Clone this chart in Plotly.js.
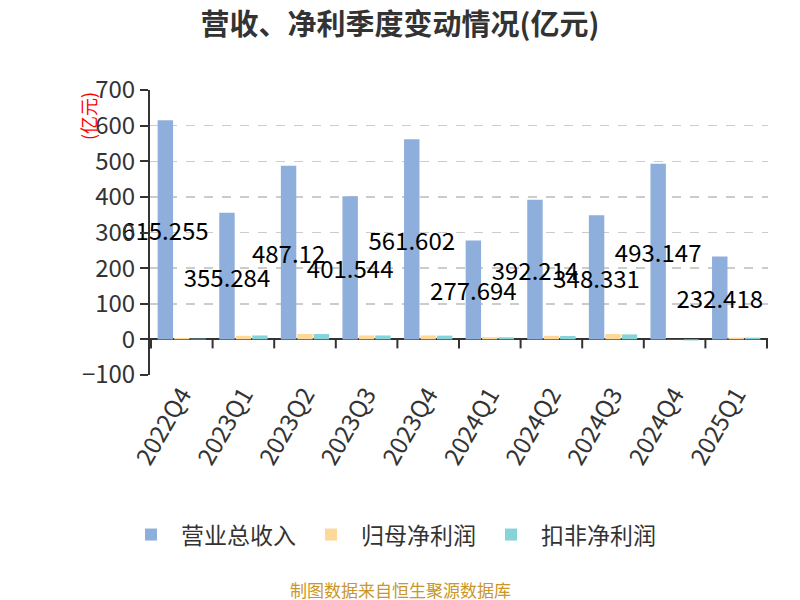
<!DOCTYPE html>
<html>
<head>
<meta charset="utf-8">
<script src="https://cdn.plot.ly/plotly-3.0.1.min.js"></script>
<style>html,body{margin:0;padding:0;background:#fff;}#chart{width:800px;height:600px;}</style>
</head>
<body>
<div id="chart"></div>
<script>
const categories = ['2022Q4','2023Q1','2023Q2','2023Q3','2023Q4','2024Q1','2024Q2','2024Q3','2024Q4','2025Q1'];
const revenue = [615.255, 355.284, 487.12, 401.544, 561.602, 277.694, 392.214, 348.331, 493.147, 232.418];
const netProfit = [4, 10, 15, 11, 11, 6, 10, 15, -0.5, 5];
const deductedProfit = [2, 11, 15, 11, 10.5, 6, 9.5, 14, -3, 5];
const seriesNames = ['营业总收入', '归母净利润', '扣非净利润'];
const yTicks = [-100, 0, 100, 200, 300, 400, 500, 600, 700];

const FONT = '"Noto Sans CJK SC", "Noto Sans", sans-serif';

const traces = [
  {type: 'bar', name: seriesNames[0], x: categories, y: revenue,
   marker: {color: '#8eaedb'},
   text: revenue.map(String), textposition: 'inside', insidetextanchor: 'middle',
   constraintext: 'none', textangle: 0, cliponaxis: false,
   insidetextfont: {color: '#000', size: 24, family: FONT}},
  {type: 'bar', name: seriesNames[1], x: categories, y: netProfit,
   marker: {color: '#fdd898'}},
  {type: 'bar', name: seriesNames[2], x: categories, y: deductedProfit,
   marker: {color: '#87d4d8'}}
];

const shapes = [];
for (let i = 0; i <= categories.length; i++) {
  shapes.push({type: 'line', xref: 'x', yref: 'y', ysizemode: 'pixel', yanchor: 0,
    x0: i - 0.5, x1: i - 0.5, y0: 0, y1: -9, line: {color: '#333', width: 2}});
}

const layout = {
  width: 800, height: 600,
  paper_bgcolor: '#fff', plot_bgcolor: '#fff',
  margin: {l: 150, r: 32, t: 90, b: 225},
  font: {family: FONT, color: '#333'},
  title: {text: '<b>营收、净利季度变动情况(亿元)</b>', x: 0.5, xanchor: 'center', y: 0.958, yanchor: 'middle',
    font: {size: 29, color: '#333', family: FONT}},
  barmode: 'group', bargap: 0.2, bargroupgap: 0.06,
  xaxis: {type: 'category', showline: false, ticks: '', tickangle: -60,
    tickfont: {size: 24, color: '#333', family: FONT}, showgrid: false, fixedrange: true},
  yaxis: {range: [-100, 700], tickvals: yTicks, showline: true, linecolor: '#333', linewidth: 2,
    ticks: 'outside', ticklen: 8, tickwidth: 2, tickcolor: '#333',
    tickfont: {size: 24, color: '#333', family: FONT},
    showgrid: true, gridcolor: '#cccccc', griddash: 'dash', gridwidth: 1.5,
    zeroline: true, zerolinecolor: '#333', zerolinewidth: 2},
  shapes: shapes,
  showlegend: true,
  legend: {orientation: 'h', x: 0.39, xanchor: 'center', y: -0.56, yanchor: 'middle',
    font: {size: 23, color: '#333', family: FONT}, itemwidth: 50, traceorder: 'normal'},
  annotations: [
    {text: '(亿元)', xref: 'paper', yref: 'paper', x: 0, y: 1, xanchor: 'center', yanchor: 'top',
      xshift: -62, yshift: 0, textangle: -90, showarrow: false,
      font: {size: 18, color: '#ff0000', family: FONT}},
    {text: '制图数据来自恒生聚源数据库', xref: 'paper', yref: 'paper', x: 0.405, y: -0.754,
      xanchor: 'center', yanchor: 'middle', showarrow: false,
      font: {size: 17, color: '#c8962a', family: FONT}}
  ]
};

Plotly.newPlot('chart', traces, layout, {displayModeBar: false, staticPlot: true});
</script>
</body>
</html>
